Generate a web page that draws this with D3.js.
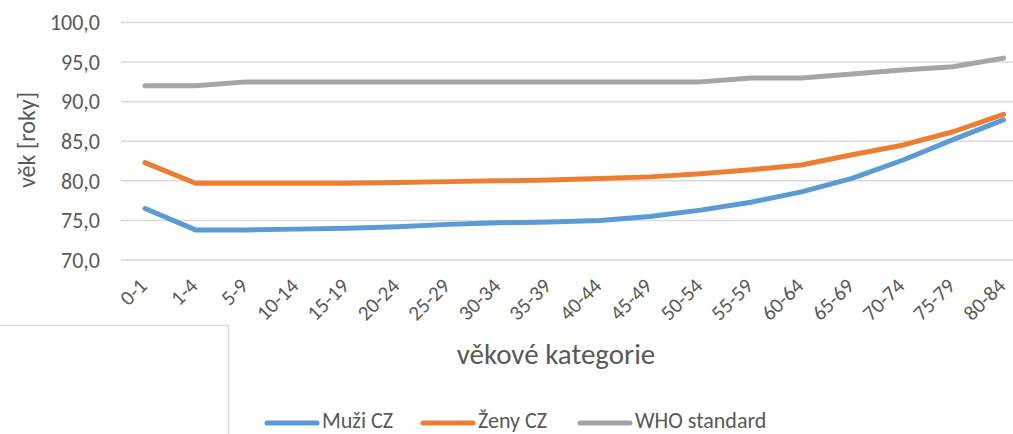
<!DOCTYPE html>
<html><head><meta charset="utf-8">
<script src="https://cdn.jsdelivr.net/npm/d3@7"></script>
<style>
html,body{margin:0;padding:0;background:#fff;overflow:hidden;}
text{font-family:Carlito,Calibri,Lato,sans-serif;fill:#595959;}
</style></head>
<body><svg id="c" width="1013" height="434"></svg>
<script>
const categories = ["0-1","1-4","5-9","10-14","15-19","20-24","25-29","30-34","35-39","40-44","45-49","50-54","55-59","60-64","65-69","70-74","75-79","80-84"];
const muzi = [76.5,73.8,73.8,73.9,74.0,74.2,74.5,74.7,74.8,75.0,75.5,76.3,77.3,78.6,80.3,82.6,85.2,87.7];
const zeny = [82.3,79.7,79.7,79.7,79.7,79.8,79.9,80.0,80.1,80.3,80.5,80.9,81.4,82.0,83.3,84.5,86.2,88.4];
const who = [92.0,92.0,92.5,92.5,92.5,92.5,92.5,92.5,92.5,92.5,92.5,92.5,93.0,93.0,93.5,94.0,94.4,95.5];
const yTicks = [70,75,80,85,90,95,100];
const seriesNames = ["Muži CZ","Ženy CZ","WHO standard"];
const colors = ["#5b9bd5","#ed7d31","#a5a5a5"];

const svg = d3.select("#c");
const x = d3.scalePoint().domain(categories).range([145,1003.5]);
const y = d3.scaleLinear().domain([70,100]).range([260,22.5]);

// gridlines
svg.append("g").selectAll("line").data(yTicks).join("line")
  .attr("x1",121).attr("x2",1013)
  .attr("y1",d=>y(d)).attr("y2",d=>y(d))
  .attr("stroke","#d9d9d9").attr("stroke-width",1.5);

// y labels
svg.append("g").selectAll("text").data(yTicks).join("text")
  .attr("x",100).attr("y",d=>y(d)).attr("dy","0.35em")
  .attr("text-anchor","end").style("font-size","22px")
  .text(d=>d.toFixed(1).replace(".",","));

// x labels
svg.append("g").selectAll("text").data(categories).join("text")
  .attr("transform",d=>`translate(${x(d)-2},${282}) rotate(-45)`)
  .attr("text-anchor","end").attr("dy","0.35em").style("font-size","21px")
  .text(d=>d);

// axis titles
svg.append("text").attr("transform","translate(35,140) rotate(-90)")
  .attr("text-anchor","middle").style("font-size","24px").text("věk [roky]");
svg.append("text").attr("x",556).attr("y",364)
  .attr("text-anchor","middle").style("font-size","29px").text("věkové kategorie");

// lines
const line = d3.line().x((d,i)=>x(categories[i])).y(d=>y(d));
[muzi,zeny,who].forEach((s,k)=>{
  svg.append("path").datum(s).attr("d",line)
    .attr("fill","none").attr("stroke",colors[k]).attr("stroke-width",5)
    .attr("stroke-linecap","round").attr("stroke-linejoin","round");
});

// stray box in lower left
svg.append("path").attr("d","M0,325.5 H228.5 V434")
  .attr("fill","none").attr("stroke","#d9d9d9").attr("stroke-width",1.5);

// legend
const legX = [267,423,580];
seriesNames.forEach((n,k)=>{
  svg.append("line").attr("x1",legX[k]).attr("x2",legX[k]+50)
    .attr("y1",423).attr("y2",423).attr("stroke",colors[k]).attr("stroke-width",5)
    .attr("stroke-linecap","round");
  svg.append("text").attr("x",legX[k]+55).attr("y",428)
    .style("font-size","22px").text(n);
});
</script></body></html>
